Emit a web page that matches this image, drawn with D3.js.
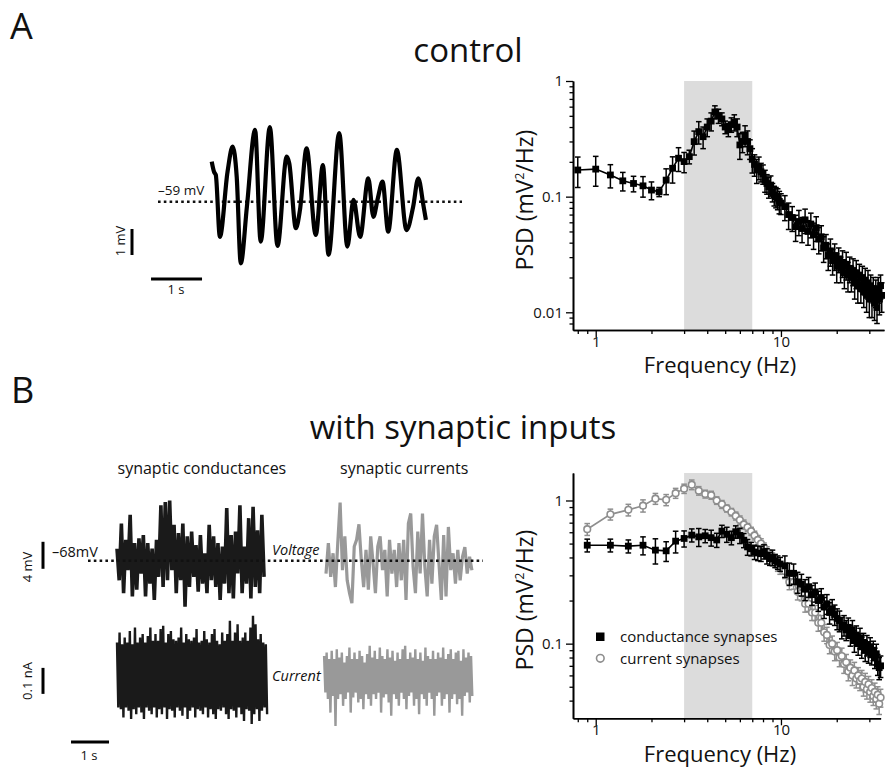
<!DOCTYPE html>
<html><head><meta charset="utf-8">
<script src="https://cdn.jsdelivr.net/npm/d3@7"></script>
<style>body{margin:0;background:#fff} text{font-family:"Open Sans",sans-serif;fill:#111}</style>
</head><body><svg id="c" width="885" height="769"></svg>
<script>
// ---------------- DATA ----------------
// Panel A trace: time (s) and membrane potential relative to -59 mV (mV)
const ctrlTraceT=[0.02,0.065,0.10,0.18,0.33,0.43,0.51,0.59,0.71,0.87,0.98,1.16,1.31,1.49,1.54,1.67,1.75,1.88,2.06,2.20,2.31,2.52,2.68,2.80,2.93,3.09,3.19,3.27,3.37,3.48,3.65,3.84,3.97,4.07,4.17,4.22];
const ctrlTraceV=[1.54,1.15,1.03,-1.35,1.15,2.12,0.96,-2.37,-0.19,2.76,-1.54,2.87,-1.70,1.73,1.48,-1.02,-0.32,2.05,-1.28,1.41,-2.05,2.64,-1.73,0.07,-1.35,0.90,-0.58,0.07,0.77,-1.15,1.99,-1.09,-0.19,0.90,-0.13,-0.70];

// Panel B traces (uniformly sampled extremes), voltage relative to -68 mV (mV)
const condVoltage=[1.8,-2.9,5.5,-4.8,3.1,-1.4,6.8,-5.3,2.6,-4.3,3.3,-1.9,3.8,-5.3,2.6,-3.4,1.8,-5.8,3.1,-2.4,8.2,-3.9,8.7,-2.9,8.9,-1.4,5.3,-4.8,4.1,-2.9,5.5,-6.8,3.6,-3.9,4.3,-2.4,2.3,-4.6,3.8,-3.4,1.1,-4.8,5.3,-2.9,3.6,-3.9,2.6,-5.8,2.1,-3.4,7.8,-4.8,3.8,-5.6,4.3,-1.9,8.2,-4.8,2.1,-3.4,6.3,-5.6,8.0,-3.9,4.5,-4.8,6.8,-2.4];
const currVoltage=[-1.9,2.6,-2.4,1.1,-3.9,2.6,8.6,-1.4,3.6,-2.9,-4.8,-6.3,2.1,3.1,5.4,0.1,-3.9,1.6,-4.3,3.6,-0.4,-4.8,2.1,3.6,-1.4,1.6,-5.3,3.1,-1.9,1.6,-3.9,2.6,-2.9,3.1,-5.8,5.5,7.0,-0.9,-4.8,4.3,-1.9,7.0,-0.9,-5.3,3.1,-3.4,3.6,5.3,-0.4,-5.8,3.8,-5.3,5.0,-1.4,1.1,-3.4,1.6,-2.9,0.6,2.0,-1.9,0.6,-1.4];
// injected current relative to its mean (pA): upper and lower excursions
const condCurrentHi=[135,173,128,154,135,179,128,192,135,154,167,135,160,192,141,167,141,186,199,135,167,179,147,141,154,192,135,167,147,141,154,186,135,141,179,147,135,167,186,141,128,173,141,167,218,141,173,205,141,154,173,141,192,237,205,147,167,135,128];
const condCurrentLo=[-115,-122,-154,-115,-128,-160,-122,-141,-115,-135,-160,-115,-128,-141,-115,-154,-122,-141,-115,-160,-122,-128,-154,-115,-128,-147,-115,-160,-128,-115,-154,-122,-128,-141,-115,-154,-122,-141,-160,-122,-128,-115,-141,-160,-122,-128,-154,-115,-141,-167,-122,-128,-179,-141,-122,-167,-128,-115,-141];
const currCurrentHi=[83,96,71,103,71,109,77,96,58,83,115,71,96,71,103,83,58,90,122,77,103,71,115,83,71,109,77,103,64,96,71,109,122,71,96,77,109,71,96,64,115,83,71,103,71,96,77,115,71,90,109,71,96,103,64,109,77,96,83];
const currCurrentLo=[-58,-83,-135,-71,-186,-83,-64,-109,-83,-58,-135,-77,-58,-96,-83,-122,-64,-83,-109,-64,-83,-58,-135,-77,-64,-96,-147,-64,-83,-109,-58,-83,-122,-71,-58,-109,-83,-141,-64,-83,-109,-58,-83,-147,-71,-58,-109,-83,-64,-135,-83,-64,-103,-83,-147,-71,-58,-96,-71];

// Power spectra (mV^2/Hz)
const ctrlFreq=[0.8,1.0,1.2,1.4,1.6,1.8,2.0,2.2,2.4,2.6,2.8,3.0,3.2,3.4,3.6,3.8,4.0,4.2,4.4,4.6,4.8,5.0,5.2,5.4,5.6,5.8,6.0,6.2,6.4,6.6,6.8,7.0,7.2,7.4,7.6,7.8,8.0,8.2,8.4,8.6,8.8,9.0,9.2,9.4,9.6,9.8,10.0,
 10.5,11,11.5,12,12.5,13,13.5,14,14.5,15,15.5,16,16.5,17,17.5,18,18.5,19,19.5,20,20.5,21,21.5,22,22.5,23,23.5,24,24.5,25,25.5,26,26.5,27,27.5,28,28.5,29,29.5,30,30.5,31,31.5,32,32.5,33,33.5,34,34.5,35];
const ctrlPsd=[0.170,0.173,0.154,0.137,0.130,0.124,0.114,0.110,0.139,0.176,0.215,0.201,0.222,0.299,0.365,0.330,0.400,0.450,0.540,0.500,0.470,0.400,0.380,0.420,0.440,0.400,0.280,0.300,0.340,0.300,0.260,0.210,0.190,0.170,0.180,0.164,0.158,0.139,0.130,0.122,0.126,0.110,0.103,0.100,0.097,0.091,0.088,
 0.082,0.070,0.066,0.055,0.061,0.053,0.063,0.050,0.058,0.047,0.054,0.043,0.045,0.036,0.038,0.031,0.034,0.028,0.031,0.025,0.029,0.024,0.027,0.022,0.026,0.021,0.024,0.020,0.023,0.018,0.022,0.017,0.021,0.016,0.020,0.015,0.019,0.014,0.018,0.013,0.017,0.013,0.016,0.012,0.015,0.011,0.016,0.013,0.017,0.014];
const ctrlSem=[0.05,0.05,0.035,0.025,0.02,0.025,0.02,0.01,0.035,0.045,0.05,0.04,0.03,0.07,0.08,0.07,0.07,0.08,0.07,0.07,0.06,0.05,0.05,0.06,0.07,0.07,0.07,0.06,0.07,0.07,0.05,0.05,0.04,0.04,0.04,0.03,0.03,0.03,0.025,0.025,0.025,0.02,0.02,0.02,0.02,0.02,0.018,
 0.02,0.018,0.016,0.014,0.015,0.013,0.015,0.012,0.014,0.012,0.013,0.011,0.011,0.009,0.009,0.008,0.009,0.007,0.008,0.007,0.007,0.006,0.007,0.006,0.007,0.006,0.006,0.005,0.006,0.005,0.006,0.005,0.005,0.004,0.005,0.004,0.005,0.004,0.005,0.004,0.004,0.004,0.004,0.0035,0.004,0.003,0.004,0.0035,0.004,0.004];

const synFreq=[0.9,1.2,1.5,1.8,2.1,2.4,2.7,3.0,3.3,3.6,3.9,4.2,4.5,4.8,5.1,5.4,5.7,6.0,6.3,6.6,6.9,7.2,7.5,7.8,8.1,8.4,8.7,9.0,9.3,9.6,9.9,
 10.5,11.1,11.7,12.3,12.9,13.5,14.1,14.7,15.3,15.9,16.5,17.1,17.7,18.3,18.9,19.5,20.1,20.7,21.3,21.9,22.5,23.1,23.7,24.3,24.9,25.5,26.1,26.7,27.3,27.9,28.5,29.1,29.7,30.3,30.9,31.5,32.1,32.7,33.3,33.9,34.5];
const condPsd=[0.487,0.487,0.48,0.487,0.45,0.445,0.52,0.543,0.573,0.557,0.567,0.55,0.53,0.611,0.58,0.55,0.605,0.57,0.528,0.474,0.46,0.437,0.43,0.425,0.44,0.41,0.392,0.40,0.38,0.37,0.36,
 0.35,0.31,0.31,0.27,0.26,0.24,0.25,0.22,0.23,0.20,0.21,0.18,0.19,0.165,0.175,0.16,0.15,0.145,0.13,0.135,0.125,0.13,0.115,0.125,0.105,0.115,0.10,0.11,0.095,0.102,0.09,0.098,0.088,0.095,0.085,0.09,0.08,0.085,0.072,0.068,0.07];
const condSem=[0.05,0.05,0.05,0.07,0.09,0.07,0.09,0.07,0.06,0.08,0.06,0.07,0.06,0.06,0.07,0.06,0.06,0.07,0.06,0.06,0.05,0.05,0.05,0.05,0.05,0.05,0.04,0.05,0.04,0.04,0.04,
 0.06,0.055,0.05,0.045,0.045,0.04,0.04,0.035,0.035,0.032,0.032,0.03,0.03,0.028,0.028,0.026,0.025,0.024,0.022,0.022,0.02,0.021,0.019,0.02,0.018,0.018,0.017,0.018,0.016,0.016,0.015,0.016,0.015,0.015,0.014,0.014,0.013,0.014,0.012,0.012,0.012];
const currPsd=[0.63,0.80,0.86,0.92,1.03,1.01,1.125,1.21,1.29,1.17,1.11,1.09,1.00,0.94,0.88,0.83,0.78,0.73,0.68,0.65,0.61,0.57,0.53,0.50,0.47,0.44,0.42,0.40,0.37,0.35,0.335,
 0.32,0.27,0.27,0.23,0.225,0.19,0.19,0.165,0.165,0.14,0.14,0.12,0.115,0.098,0.10,0.088,0.09,0.08,0.082,0.072,0.074,0.064,0.068,0.06,0.065,0.057,0.06,0.055,0.057,0.05,0.054,0.048,0.052,0.046,0.049,0.043,0.046,0.041,0.044,0.038,0.042];
const currSem=[0.06,0.07,0.08,0.09,0.09,0.09,0.09,0.09,0.1,0.08,0.07,0.07,0.06,0.06,0.05,0.05,0.05,0.05,0.05,0.04,0.04,0.04,0.04,0.04,0.035,0.035,0.03,0.03,0.03,0.03,0.03,
 0.035,0.032,0.03,0.028,0.026,0.024,0.022,0.02,0.02,0.018,0.017,0.016,0.015,0.013,0.013,0.012,0.012,0.011,0.011,0.01,0.01,0.009,0.009,0.009,0.009,0.008,0.008,0.008,0.008,0.007,0.008,0.007,0.007,0.007,0.007,0.006,0.007,0.006,0.006,0.006,0.006];

const xTickLabels=["1","10"];
const yTickLabelsA=["0.01","0.1","1"];
const yTickLabelsB=["0.1","1"];
const legendLabels=["conductance synapses","current synapses"];
const thetaBand=[3,7];

// ---------------- DRAWING ----------------
const svg=d3.select("#c");
const GRAY="#8e8e8e";

function txt(x,y,s,size,opt={}){
  const t=svg.append("text").attr("x",x).attr("y",y).attr("font-size",size).text(s);
  if(opt.anchor) t.attr("text-anchor",opt.anchor);
  if(opt.family) t.attr("font-family",opt.family);
  if(opt.italic) t.attr("font-style","italic");
  if(opt.rot) t.attr("transform",`rotate(-90,${x},${y})`);
  return t;
}

// panel letters & titles
txt(10,39,"A",36);
txt(11,403,"B",36);
txt(468,62,"control",33,{anchor:"middle"});
txt(463,439,"with synaptic inputs",33,{anchor:"middle"});

// ---- Panel A trace ----
const tA=d3.scaleLinear().domain([0,1]).range([210.7,261.7]);
const vA=d3.scaleLinear().domain([0,1]).range([201.7,175.7]);
svg.append("line").attr("x1",158).attr("x2",462).attr("y1",vA(0)).attr("y2",vA(0))
  .attr("stroke","#111").attr("stroke-width",2.6).attr("stroke-dasharray","2.6,3.2");
svg.append("path").datum(ctrlTraceT.map((t,i)=>[t,ctrlTraceV[i]]))
  .attr("d",d3.line().x(d=>tA(d[0])).y(d=>vA(d[1])).curve(d3.curveMonotoneX))
  .attr("fill","none").attr("stroke","#000").attr("stroke-width",4.2).attr("stroke-linejoin","round");
txt(158,195,"\u201359 mV",13.5);
svg.append("line").attr("x1",132).attr("x2",132).attr("y1",vA(-1)+1.3).attr("y2",vA(-2)+1.3).attr("stroke","#000").attr("stroke-width",3);
txt(125,241,"1 mV",13,{anchor:"middle",rot:true});
svg.append("line").attr("x1",tA(-1.17)).attr("x2",tA(-0.17)).attr("y1",279).attr("y2",279).attr("stroke","#000").attr("stroke-width",3);
txt(176,294,"1 s",13,{anchor:"middle"});

// ---- Panel B traces ----
const tB=d3.scaleLinear().domain([0,1]).range([117,155]);
const vB=d3.scaleLinear().domain([0,1]).range([560.7,553.95]);
const iB=d3.scaleLinear().domain([0,1]).range([677.5,677.24]);
function trace(vals,t0,dur,yScale,color,width){
  const n=vals.length;
  svg.append("path").datum(vals)
    .attr("d",d3.line().x((d,i)=>tB(t0+dur*i/(n-1))).y(d=>yScale(d)))
    .attr("fill","none").attr("stroke",color).attr("stroke-width",width).attr("stroke-linejoin","miter");
}
function interleave(hi,lo){const out=[];hi.forEach((h,i)=>{out.push(h);out.push(lo[i]);});return out;}
trace(condVoltage,0,3.87,vB,"#1a1a1a",3.6);
trace(currVoltage,5.5,3.84,vB,"#999",3.2);
trace(interleave(condCurrentHi,condCurrentLo),0,3.95,iB,"#1a1a1a",2.4);
trace(interleave(currCurrentHi,currCurrentLo),5.45,3.9,iB,"#999",2.4);
svg.append("line").attr("x1",88).attr("x2",483).attr("y1",vB(0)).attr("y2",vB(0))
  .attr("stroke","#111").attr("stroke-width",2.6).attr("stroke-dasharray","2.6,3.2");
txt(117.5,474,"synaptic conductances",16);
txt(340,474,"synaptic currents",16);
txt(52,557,"\u201368mV",14.5,{family:"Liberation Sans"});
txt(272,555,"Voltage",14.5,{family:"Liberation Sans",italic:true});
txt(272,681,"Current",14.5,{family:"Liberation Sans",italic:true});
svg.append("line").attr("x1",43).attr("x2",43).attr("y1",vB(-1.2)).attr("y2",vB(2.8)).attr("stroke","#000").attr("stroke-width",3);
txt(32,567,"4 mV",13,{anchor:"middle",rot:true});
svg.append("line").attr("x1",43).attr("x2",43).attr("y1",iB(37)).attr("y2",iB(-63)).attr("stroke","#000").attr("stroke-width",3);
txt(32,681,"0.1 nA",13,{anchor:"middle",rot:true});
svg.append("line").attr("x1",tB(-1.21)).attr("x2",tB(-0.21)).attr("y1",742).attr("y2",742).attr("stroke","#000").attr("stroke-width",3);
txt(89,760,"1 s",13,{anchor:"middle"});

// ---- PSD panels ----
function minorTicks(dom){
  const out=[];
  for(let e=-3;e<=2;e++){for(let m=2;m<=9;m++){const v=m*Math.pow(10,e);if(v>=dom[0]*0.999&&v<=dom[1]*1.001)out.push(v);}}
  return out;
}
function styleAxis(g){g.select(".domain").attr("stroke","#000").attr("stroke-width",1.6);
  g.selectAll(".tick line").attr("stroke","#000").attr("stroke-width",1.3);
  g.selectAll(".tick text").attr("font-family","Open Sans").attr("font-size",15).attr("fill","#111");}

function psdPanel(cfg){
  const x=d3.scaleLog().domain(cfg.xDomain).range(cfg.xRange);
  const y=d3.scaleLog().domain(cfg.yDomain).range(cfg.yRange);
  const g=svg.append("g");
  const yb=cfg.yRange[0];
  g.append("rect").attr("x",x(thetaBand[0])).attr("width",x(thetaBand[1])-x(thetaBand[0]))
    .attr("y",cfg.yRange[1]).attr("height",yb-cfg.yRange[1]).attr("fill","#dcdcdc");
  g.append("g").attr("transform",`translate(0,${yb})`)
    .call(d3.axisBottom(x).tickValues(minorTicks(cfg.xDomain)).tickSize(4).tickSizeOuter(0).tickFormat(""))
    .call(styleAxis);
  g.append("g").attr("transform",`translate(0,${yb})`)
    .call(d3.axisBottom(x).tickValues([1,10]).tickSize(7).tickSizeOuter(0).tickPadding(-1).tickFormat((d,i)=>xTickLabels[i]))
    .call(styleAxis);
  const xl=cfg.xRange[0];
  g.append("g").attr("transform",`translate(${xl},0)`)
    .call(d3.axisLeft(y).tickValues(minorTicks(cfg.yDomain)).tickSize(3.5).tickSizeOuter(0).tickFormat(""))
    .call(styleAxis);
  g.append("g").attr("transform",`translate(${xl},0)`)
    .call(d3.axisLeft(y).tickValues(cfg.yMajor).tickSize(7).tickSizeOuter(0).tickPadding(3).tickFormat((d,i)=>cfg.yLabels[i]))
    .call(styleAxis);
  const lab=g.append("text").attr("transform",`translate(${cfg.yLabelX},${cfg.yLabelY}) rotate(-90)`)
    .attr("text-anchor","middle").attr("font-size",23);
  lab.append("tspan").text("PSD (mV");
  lab.append("tspan").attr("font-size",12).attr("dy",-9).text("2");
  lab.append("tspan").attr("dy",9).text("/Hz)");
  g.append("text").attr("x",cfg.xLabelX).attr("y",cfg.xLabelY).attr("text-anchor","middle").attr("font-size",22).text("Frequency (Hz)");
  return {g,x,y};
}

function series(P,freq,psd,sem,color,marker){
  const {g,x,y}=P;
  const pts=freq.map((f,i)=>({f,v:psd[i],s:sem[i]}));
  const ymin=y.domain()[0];
  g.append("path").datum(pts).attr("d",d3.line().x(d=>x(d.f)).y(d=>y(d.v)))
    .attr("fill","none").attr("stroke",color).attr("stroke-width",1.6);
  const eb=g.append("g").attr("stroke",color).attr("stroke-width",1.5);
  pts.forEach(d=>{
    const xx=x(d.f), y1=y(d.v+d.s), y2=y(Math.max(d.v-d.s,ymin));
    eb.append("line").attr("x1",xx).attr("x2",xx).attr("y1",y1).attr("y2",y2);
    eb.append("line").attr("x1",xx-2.8).attr("x2",xx+2.8).attr("y1",y1).attr("y2",y1);
    eb.append("line").attr("x1",xx-2.8).attr("x2",xx+2.8).attr("y1",y2).attr("y2",y2);
  });
  if(marker==="square"){
    g.append("g").selectAll("rect").data(pts).join("rect")
      .attr("x",d=>x(d.f)-3.4).attr("y",d=>y(d.v)-3.4).attr("width",6.8).attr("height",6.8).attr("fill",color);
  } else {
    g.append("g").selectAll("circle").data(pts).join("circle")
      .attr("cx",d=>x(d.f)).attr("cy",d=>y(d.v)).attr("r",3.3).attr("fill","#fff").attr("stroke",color).attr("stroke-width",1.6);
  }
}

const PA=psdPanel({xDomain:[0.754,36],xRange:[573,884],yDomain:[0.00703,1],yRange:[330,81],
  yMajor:[0.01,0.1,1],yLabels:yTickLabelsA,yLabelX:533,yLabelY:200,xLabelX:720,xLabelY:373});
series(PA,ctrlFreq,ctrlPsd,ctrlSem,"#000","square");

const PB=psdPanel({xDomain:[0.754,34.5],xRange:[573,880.6],yDomain:[0.0301,1.556],yRange:[718.3,473],
  yMajor:[0.1,1],yLabels:yTickLabelsB,yLabelX:533,yLabelY:600,xLabelX:720,xLabelY:762});
series(PB,synFreq,currPsd,currSem,GRAY,"circle");
series(PB,synFreq,condPsd,condSem,"#000","square");

// legend
PB.g.append("rect").attr("x",596).attr("y",632.5).attr("width",8.5).attr("height",8.5).attr("fill","#000");
PB.g.append("circle").attr("cx",600.3).attr("cy",658.3).attr("r",3.8).attr("fill","#fff").attr("stroke",GRAY).attr("stroke-width",1.6);
PB.g.append("text").attr("x",620).attr("y",641.5).attr("font-size",15).text(legendLabels[0]);
PB.g.append("text").attr("x",620).attr("y",663.5).attr("font-size",15).text(legendLabels[1]);
</script></body></html>
